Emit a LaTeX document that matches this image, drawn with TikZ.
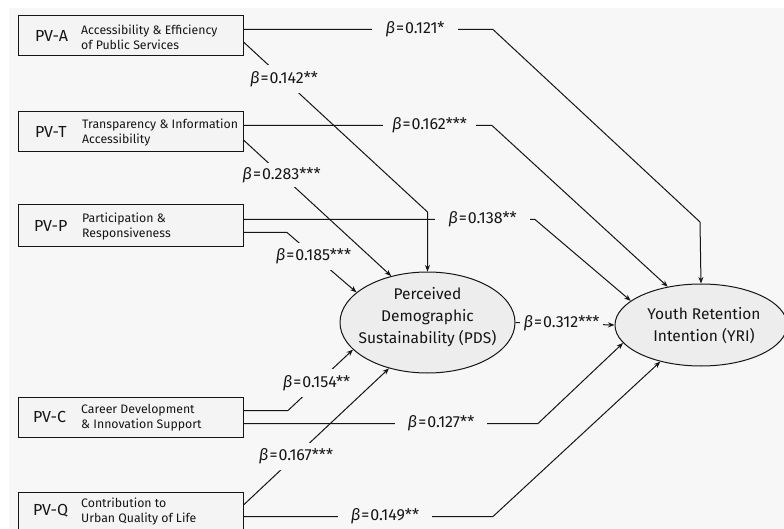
\documentclass[tikz,border=0pt]{standalone}
\usepackage{fontspec}
\setmainfont{Fira Sans}
\usetikzlibrary{arrows.meta,shapes.geometric}
\definecolor{bg}{HTML}{F7F7F7}
\definecolor{boxfill}{HTML}{F4F4F4}
\definecolor{ellfill}{HTML}{EDEDED}
\definecolor{ink}{HTML}{151515}
\newcommand{\bcoef}[1]{\textit{β}\kern1pt=\kern1pt#1}
\begin{document}
\begin{tikzpicture}[x=1pt,y=-1pt,
  pvbox/.style={draw=ink,line width=1pt,fill=boxfill,minimum width=225pt,minimum height=40pt,inner sep=0pt},
  pvcode/.style={anchor=west,font=\fontsize{16}{18}\selectfont,text=ink,inner sep=0pt},
  pvdesc/.style={anchor=west,align=left,font=\fontsize{12.3}{15}\selectfont,text=ink,inner sep=0pt},
  latent/.style={ellipse,draw=ink,line width=1pt,fill=ellfill,inner sep=0pt},
  lattext/.style={align=center,font=\fontsize{15.5}{22}\selectfont,text=ink,inner sep=0pt},
  conn/.style={draw=ink,line width=1pt},
  arr/.style={conn,-{Stealth[length=6.5pt,width=5pt]}},
  coef/.style={fill=bg,inner sep=0pt,font=\fontsize{16}{18}\selectfont,text=ink},
  hcoef/.style={coef,minimum height=14pt},
  dcoef/.style={coef,inner xsep=2pt}
]
\useasboundingbox (0,0) rectangle (784,529);
\clip (0,0) rectangle (784,529);
\fill[white] (0,0) rectangle (784,529);
\fill[bg] (9,8) rectangle (784,529);

% observed variable boxes
\node[pvbox] (A) at (130.5,36) {};
\node[pvbox] (T) at (130.5,132) {};
\node[pvbox,minimum height=42pt] (P) at (130.5,226) {};
\node[pvbox] (C) at (130.5,417) {};
\node[pvbox] (Q) at (130.5,512) {};

\node[pvcode] (Acode) at (35,35.5) {PV-A};
\node[pvdesc] (Adesc) at (81,37) {Accessibility \& Efficiency\\of Public Services};
\node[pvcode] (Tcode) at (35,132) {PV-T};
\node[pvdesc] (Tdesc) at (82,132.5) {Transparency \& Information\\Accessibility};
\node[pvcode] (Pcode) at (34,226) {PV-P};
\node[pvdesc] (Pdesc) at (82,227) {Participation \&\\Responsiveness};
\node[pvcode] (Ccode) at (33,417) {PV-C};
\node[pvdesc] (Cdesc) at (81,418) {Career Development\\\& Innovation Support};
\node[pvcode] (Qcode) at (33,511) {PV-Q};
\node[pvdesc] (Qdesc) at (81,511.5) {Contribution to\\Urban Quality of Life};

% latent variables
\node[latent,minimum width=175pt,minimum height=101pt] (PDS) at (427.5,322.5) {};
\node[lattext] (PDSt) at (427.5,317) {Perceived\\Demographic\\Sustainability (PDS)};
\node[latent,minimum width=172pt,minimum height=82pt] (YRI) at (701,325) {};
\node[lattext] (YRIt) at (704,326) {Youth Retention\\Intention (YRI)};

% paths to YRI
\draw[arr] ([yshift=6.5]A.east) -- (493,29.5) -- (700,222) -- (YRI.north);
\draw[arr] ([yshift=6.5]T.east) -- (492,125.5) -- (YRI.131);
\draw[arr] ([yshift=6.5]P.east) -- (535,219.5) -- (YRI.161.8);
\draw[arr] ([yshift=-6.5]C.east) -- (538,423.5) -- (YRI.193.5);
\draw[arr] ([yshift=-4.5]Q.east) -- (493,516.5) -- (YRI.222.6);
\draw[arr] (PDS.east) -- (YRI.west);

% paths to PDS
\draw[arr] ([yshift=-6]A.east) -- (427.5,212) -- (PDS.north);
\draw[arr] ([yshift=-8]T.east) -- (PDS.128.6);
\draw[arr] ([yshift=-6.5]P.east) -- (287,232.5) -- (PDS.157.9);
\draw[arr] ([yshift=6.5]C.east) -- (288,410.5) -- (PDS.200);
\draw[arr] ([yshift=7]Q.east) -- (PDS.230.4);

% coefficients
\node[hcoef,minimum width=86pt] (b1) at (415,29.5) {\bcoef{0.121*}};
\node[dcoef,minimum height=28pt] (b2) at (284,79) {\bcoef{0.142**}};
\node[hcoef,minimum width=93pt] (b3) at (429.5,125.5) {\bcoef{0.162***}};
\node[dcoef,minimum height=24pt] (b4) at (281.5,175) {\bcoef{0.283***}};
\node[hcoef,minimum width=95pt] (b5) at (482.5,219.5) {\bcoef{0.138**}};
\node[dcoef,minimum height=27pt] (b6) at (313.5,256.5) {\bcoef{0.185***}};
\node[hcoef,minimum width=83pt] (b7) at (561.5,323) {\bcoef{0.312***}};
\node[dcoef,minimum height=28pt] (b8) at (316.5,383) {\bcoef{0.154**}};
\node[hcoef,minimum width=92pt] (b9) at (441,423.5) {\bcoef{0.127**}};
\node[dcoef,minimum height=27pt] (b10) at (296,456.5) {\bcoef{0.167***}};
\node[hcoef,minimum width=94pt] (b11) at (385,516.5) {\bcoef{0.149**}};
\end{tikzpicture}
\end{document}
